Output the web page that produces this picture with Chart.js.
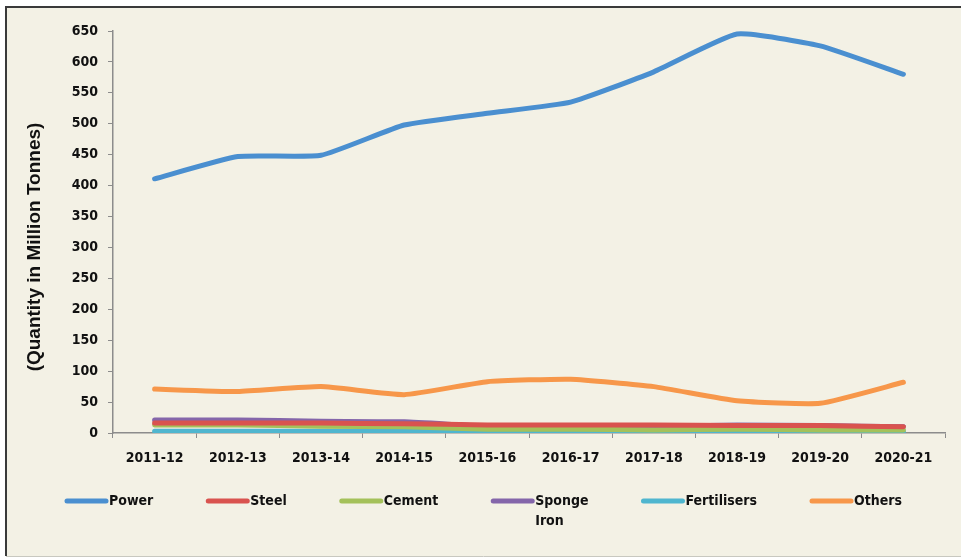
<!DOCTYPE html>
<html>
<head>
<meta charset="utf-8">
<script src="https://cdn.jsdelivr.net/npm/chart.js@4.4.1/dist/chart.umd.min.js"></script>
<style>
  html, body { margin: 0; padding: 0; background: #fff; }
  #wrap { width: 961px; height: 559px; position: relative; }
</style>
</head>
<body>
<div id="wrap"><canvas id="coalChart" width="961" height="559"></canvas></div>
<script>
/* ---------- data ---------- */
const years = ["2011-12", "2012-13", "2013-14", "2014-15", "2015-16",
               "2016-17", "2017-18", "2018-19", "2019-20", "2020-21"];

const power       = [411, 447, 449, 498, 517, 535, 584, 645, 626, 580];
const steel       = [16, 16, 16, 15, 13, 13, 13, 12, 12, 10];
const cement      = [13, 13, 11, 10, 6, 6, 5, 6, 5, 5];
const spongeIron  = [21, 21, 19, 18, 11, 9, 10, 13, 12, 10];
const fertilisers = [3, 3, 3, 3, 3, 3, 2, 3, 2, 2];
const others      = [71, 67, 75, 62, 83, 87, 75, 52, 48, 82];

const yTicks = [0, 50, 100, 150, 200, 250, 300, 350, 400, 450, 500, 550, 600, 650];
const yTitle = "(Quantity in Million Tonnes)";

/* ---------- look ---------- */
const narrow = "'DejaVu Sans Condensed', 'Liberation Sans Narrow', 'Arial Narrow', sans-serif";
const cream = "#f3f1e5";
const axisGray = "#8c8c8c";

function series(label, data, color) {
  return {
    label,
    data,
    borderColor: color,
    backgroundColor: color,
    borderWidth: 5,
    pointRadius: 0,
    tension: 0.15,
    borderCapStyle: "round",
    borderJoinStyle: "round",
    legendLines: label === "Sponge Iron" ? ["Sponge", "Iron"] : [label]
  };
}

// page frame: white strip on top, cream panel, dark border
const framePlugin = {
  id: "frame",
  beforeDraw(chart) {
    const c = chart.ctx;
    c.save();
    c.fillStyle = "#ffffff";
    c.fillRect(0, 0, chart.width, chart.height);
    c.fillStyle = cream;
    c.fillRect(6, 7, chart.width - 6, 549);
    c.strokeStyle = "#3a3a3a";
    c.lineWidth = 2;
    c.beginPath();
    c.moveTo(6, 556);
    c.lineTo(6, 7);
    c.lineTo(chart.width, 7);
    c.stroke();
    c.strokeStyle = "#c8c8c0";
    c.lineWidth = 1;
    c.beginPath();
    c.moveTo(6, 556.5);
    c.lineTo(chart.width, 556.5);
    c.stroke();
    // rotated axis title, sits a bit below the middle like the original
    c.translate(35, 247);
    c.rotate(-Math.PI / 2);
    c.font = "bold 19px 'Liberation Sans', Arial, sans-serif";
    c.fillStyle = "#111";
    c.textAlign = "center";
    c.textBaseline = "middle";
    c.fillText(yTitle, 0, 0);
    c.restore();
  }
};

// excel style legend: line sample + label, one row under the axis
const legendPlugin = {
  id: "rowLegend",
  afterDraw(chart) {
    const c = chart.ctx;
    const y = 501;
    let x = 65;
    c.save();
    c.font = "bold 14px " + narrow;
    c.textBaseline = "middle";
    c.textAlign = "left";
    chart.data.datasets.forEach(ds => {
      c.strokeStyle = ds.borderColor;
      c.lineWidth = 5;
      c.lineCap = "round";
      c.beginPath();
      c.moveTo(x + 2, y);
      c.lineTo(x + 41, y);
      c.stroke();
      c.fillStyle = "#111";
      let w = 0;
      ds.legendLines.forEach((t, i) => {
        c.fillText(t, x + 44, y + i * 20);
        w = Math.max(w, c.measureText(t).width);
      });
      x += 44 + w + 53;
    });
    c.restore();
  }
};

new Chart(document.getElementById("coalChart"), {
  type: "line",
  data: {
    labels: years,
    datasets: [
      series("Power", power, "#4a8fd0"),
      series("Steel", steel, "#d9534f"),
      series("Cement", cement, "#a4c15a"),
      series("Sponge Iron", spongeIron, "#8466aa"),
      series("Fertilisers", fertilisers, "#4fb6cf"),
      series("Others", others, "#f7974a")
    ]
  },
  options: {
    responsive: false,
    animation: false,
    layout: { padding: { left: 6, top: 31, right: 16, bottom: 0 } },
    plugins: {
      legend: { display: false },
      tooltip: { enabled: false }
    },
    scales: {
      x: {
        offset: true,
        grid: {
          offset: true,
          drawOnChartArea: false,
          color: axisGray,
          tickLength: 5,
          tickColor: axisGray
        },
        border: { color: axisGray, width: 1.5 },
        ticks: {
          color: "#111",
          font: { family: narrow, size: 14, weight: "bold" },
          padding: 12,
          maxRotation: 0
        },
        afterFit(scale) { scale.height = 126; }
      },
      y: {
        min: 0,
        max: 650,
        afterBuildTicks(scale) { scale.ticks = yTicks.map(v => ({ value: v })); },
        grid: {
          drawOnChartArea: false,
          color: axisGray,
          tickLength: 5,
          tickColor: axisGray
        },
        border: { color: axisGray, width: 1.5 },
        ticks: {
          color: "#111",
          font: { family: narrow, size: 14, weight: "bold" },
          padding: 10
        },
        afterFit(scale) { scale.width = 107; }
      }
    }
  },
  plugins: [framePlugin, legendPlugin]
});
</script>
</body>
</html>
